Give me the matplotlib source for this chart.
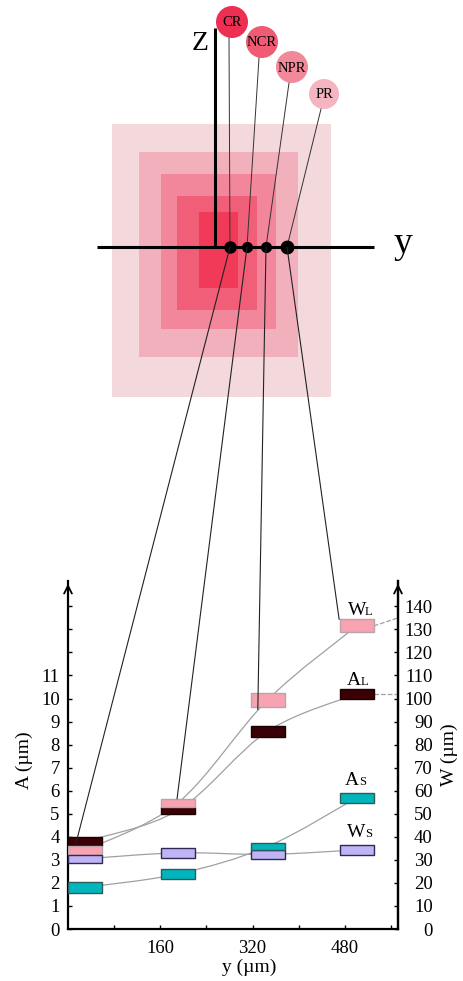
import matplotlib
matplotlib.use("Agg")
import matplotlib.pyplot as plt
from matplotlib.patches import Rectangle, Circle, ConnectionPatch, PathPatch
from matplotlib.path import Path

plt.rcParams["font.family"] = ["Liberation Serif", "DejaVu Serif"]

# --- data: bars at each y position (low / high edge of each bar) ---
y_pos = [0, 160, 320, 480]                 # µm
bar_left = [0, 161, 317, 471]              # µm, left edge of each bar
bar_width = 59                             # µm

AL_low = [3.61, 5.00, 8.35, 9.96]          # A_L (µm)
AL_high = [4.00, 5.30, 8.83, 10.43]
AS_low = [1.57, 2.17, 3.43, 5.48]          # A_S (µm)
AS_high = [2.04, 2.61, 3.74, 5.91]
WL_low = [32.2, 53.0, 96.5, 128.7]         # W_L (µm)
WL_high = [36.1, 56.5, 102.6, 134.3]
WS_low = [28.7, 30.9, 30.4, 32.2]          # W_S (µm)
WS_high = [32.2, 35.2, 34.3, 36.5]

A_ticks = list(range(0, 15))
A_ticklabels = [str(v) for v in range(0, 12)] + ["", "", ""]
W_ticks = list(range(0, 150, 10))
x_ticks = [80, 160, 240, 320, 400, 480, 560]
x_ticklabels = ["", "160", "", "320", "", "480", ""]

zones = ["CR", "NCR", "NPR", "PR"]
zone_colors = ["#ec2f52", "#ee5b72", "#f2899b", "#f4b4c0"]

fig = plt.figure(figsize=(4.63, 9.81), dpi=100)

# ---------------- sketch (pixel coordinates) ----------------
sk = fig.add_axes([0, 0, 1, 1])
sk.set_xlim(0, 463)
sk.set_ylim(981, 0)
sk.axis("off")

squares = [(112, 124, 331, 397, "#f3d8dc"),
           (139, 152, 298, 357, "#f1b0bb"),
           (161, 174, 276, 329, "#f2869b"),
           (177, 196, 257, 310, "#f15e77"),
           (199, 212, 238, 288, "#f03a58")]
for x0, y0, x1, y1, c in squares:
    sk.add_patch(Rectangle((x0, y0), x1 - x0, y1 - y0, facecolor=c, edgecolor="none"))

sk.plot([215, 215], [28, 247], color="black", lw=2.2, solid_capstyle="butt")
sk.plot([97, 374], [247, 247], color="black", lw=2.2, solid_capstyle="butt")
sk.text(200, 43, "Z", fontsize=20, ha="center", va="center")
sk.text(403, 244, "y", fontsize=27, ha="center", va="center")

dot_x = [230, 247, 266, 287]
dot_size = [8, 7, 7, 9]
circ_xy = [(232, 22), (262, 42), (292, 67), (324, 94)]
circ_r = [16, 16, 16, 15]
for i, name in enumerate(zones):
    cx, cy = circ_xy[i]
    sk.plot([cx - 3, dot_x[i]], [cy + circ_r[i], 247], color="#333333", lw=0.7)
    sk.add_patch(Circle((cx, cy), circ_r[i], facecolor=zone_colors[i], edgecolor="none"))
    sk.text(cx, cy + 1, name, fontsize=10.5, ha="center", va="center")
    sk.plot(dot_x[i], 247, "o", color="black", ms=dot_size[i], zorder=5)

# ---------------- chart ----------------
ax = fig.add_axes([68 / 463, 1 - 929 / 981, 330 / 463, 348 / 981])
ax.set_facecolor("none")
ax.set_xlim(0, 572)
ax.set_ylim(0, 15.1)
ax.spines["top"].set_visible(False)
for s in ["left", "right", "bottom"]:
    ax.spines[s].set_linewidth(1.6)

ax.set_yticks(A_ticks)
ax.set_yticklabels(A_ticklabels)
ax.set_xticks(x_ticks)
ax.set_xticklabels(x_ticklabels)
ax.tick_params(direction="in", length=3, width=1, labelsize=13.5, pad=6)
ax.tick_params(axis="x", pad=8)
ax.set_xlabel("y (µm)", fontsize=14, labelpad=1)
ax.xaxis.set_label_coords(0.55, -0.085)

sec = ax.secondary_yaxis("right", functions=(lambda a: a * 10, lambda w: w / 10))
sec.set_yticks(W_ticks)
sec.tick_params(direction="in", length=3, width=1, labelsize=13.5, pad=25)
plt.setp(sec.get_yticklabels(), ha="right")
sec.spines["right"].set_linewidth(1.6)

# axis titles placed in figure pixels
sk.text(24, 760, "A (µm)", fontsize=14, rotation=90, ha="center", va="center")
sk.text(449, 755, "W (µm)", fontsize=14, rotation=90, ha="center", va="center")

for xf in [0, 1]:
    ax.annotate("", xy=(xf, 1.0), xycoords="axes fraction", xytext=(xf, 0.95),
                arrowprops=dict(arrowstyle="->", lw=1.3, mutation_scale=14), annotation_clip=False)


def smooth(xs, ys):
    pts = list(zip(xs, ys))
    verts = [pts[0]]
    codes = [Path.MOVETO]
    n = len(pts)
    for i in range(n - 1):
        p0 = pts[max(i - 1, 0)]
        p1 = pts[i]
        p2 = pts[i + 1]
        p3 = pts[min(i + 2, n - 1)]
        c1 = (p1[0] + (p2[0] - p0[0]) / 6, p1[1] + (p2[1] - p0[1]) / 6)
        c2 = (p2[0] - (p3[0] - p1[0]) / 6, p2[1] - (p3[1] - p1[1]) / 6)
        verts += [c1, c2, p2]
        codes += [Path.CURVE4] * 3
    return Path(verts, codes)


centers = [l + bar_width / 2 for l in bar_left]
series = [
    (AL_low, AL_high, 1, "#3a0006", "#1a0000"),
    (WL_low, WL_high, 10, "#f7a3b1", "#b8a4aa"),
    (WS_low, WS_high, 10, "#c0b4f6", "#2c2a55"),
    (AS_low, AS_high, 1, "#00b6bc", "#2e5a5c"),
]
for lo, hi, k, face, edge in series:
    mids = [(a + b) / 2 / k for a, b in zip(lo, hi)]
    ax.add_patch(PathPatch(smooth(centers, mids), facecolor="none", edgecolor="#a0a0a0", lw=0.9, zorder=2))
    for left, a, b in zip(bar_left, lo, hi):
        ax.add_patch(Rectangle((left, a / k), bar_width, (b - a) / k, facecolor=face,
                               edgecolor=edge, lw=1.0, zorder=3))

# dashed leaders from last bars to the W axis
ax.plot([bar_left[3] + bar_width, 572], [(WL_low[3] + WL_high[3]) / 20, 13.5], ls="--",
        color="#a0a0a0", lw=0.9, clip_on=False, zorder=2)
ax.plot([bar_left[3] + bar_width, 572], [(AL_low[3] + AL_high[3]) / 2] * 2, ls="--",
        color="#a0a0a0", lw=0.9, clip_on=False, zorder=2)

# series labels (big letter + small letter on the same baseline)
labels = [("W", "L", 348, 365, 615), ("A", "L", 347, 361, 685),
          ("A", "S", 345, 359, 785), ("W", "S", 347, 365, 837)]
for big, small, xb, xs_, yb in labels:
    sk.text(xb, yb, big, fontsize=14, ha="left", va="baseline")
    sk.text(xs_, yb, small, fontsize=9, ha="left", va="baseline")

# lines from the zone dots down to the bars
targets = [(14, 3.74), (189, 5.65), (329, 9.52), (470, 13.43)]
for dx, (tx, ty) in zip(dot_x, targets):
    con = ConnectionPatch(xyA=(dx, 247), coordsA=sk.transData, xyB=(tx, ty), coordsB=ax.transData,
                          color="#222222", lw=0.8, zorder=4)
    fig.add_artist(con)

plt.savefig("out.png", dpi=100)
